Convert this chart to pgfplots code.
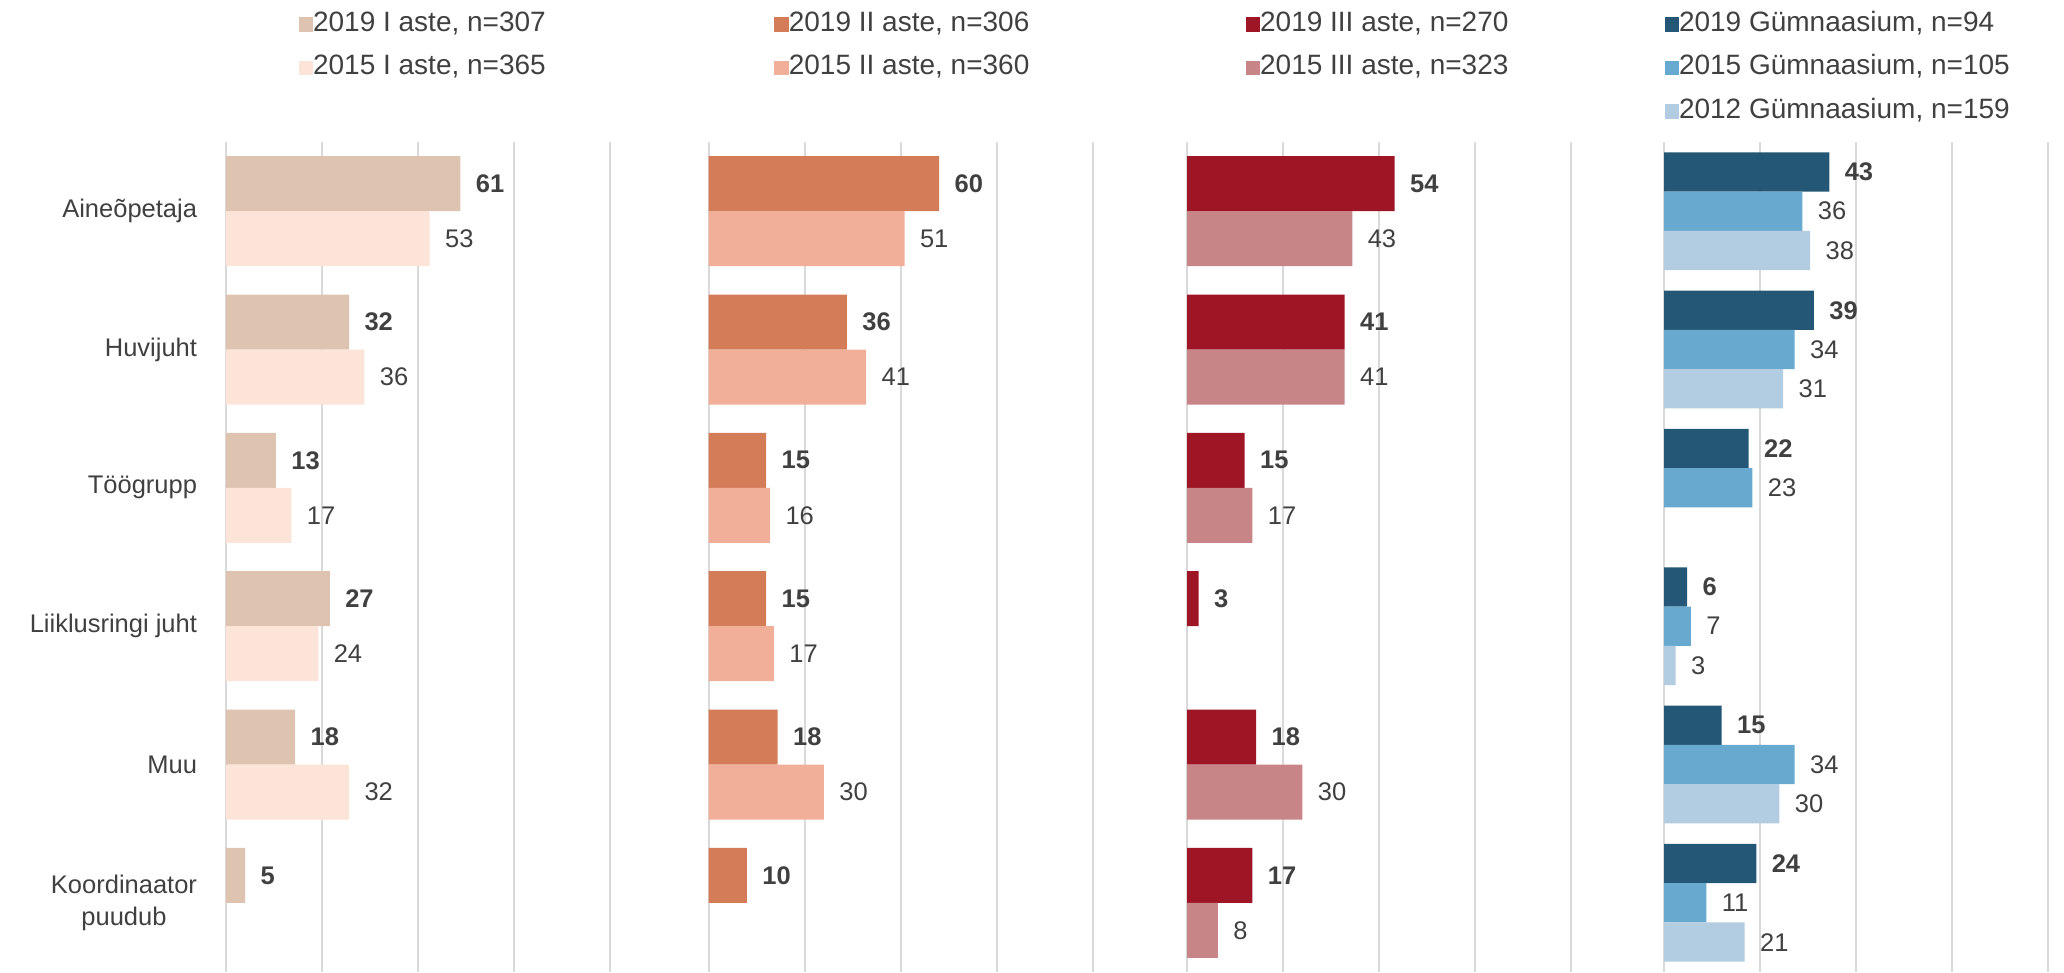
\documentclass[border=0pt]{standalone}
\usepackage{fontspec}
\setmainfont{Liberation Sans}
\usepackage{pgfplots}
\pgfplotsset{compat=1.18}

\definecolor{txt}{HTML}{404040}
\definecolor{gridc}{HTML}{D9D9D9}
\definecolor{ia}{HTML}{DEC3B0}
\definecolor{ib}{HTML}{FCE4D8}
\definecolor{iia}{HTML}{D47B58}
\definecolor{iib}{HTML}{F1AF9A}
\definecolor{iiia}{HTML}{9E1526}
\definecolor{iiib}{HTML}{C88588}
\definecolor{ga}{HTML}{245775}
\definecolor{gb}{HTML}{67A9CF}
\definecolor{gc}{HTML}{B2CDE1}

\pgfplotsset{
  panel/.style={
    scale only axis, width=192.2pt, height=332pt,
    anchor=north west,
    xmin=0, xmax=125, ymin=-0.5, ymax=5.5, y dir=reverse,
    xbar, bar width=22pt, clip=false,
    axis line style={draw=none},
    major tick length=0pt,
    xtick={0,25,50,75,100}, xticklabels={},
    xmajorgrids, grid style={draw=gridc, line width=0.8pt},
    ytick={0,...,5}, yticklabels={},
    nodes near coords,
    nodes near coords align={horizontal},
    every node near coord/.append style={text=txt, inner sep=0pt, xshift=6pt},
    /pgf/number format/assume math mode=true,
    legend style={draw=none, fill=none, anchor=north west, text=txt,
      inner sep=0pt, row sep=6.9pt, font=\fontsize{11.2}{13.4}\selectfont,
      nodes={inner sep=0pt, text height=8pt, text depth=2.5pt}},
    legend cell align=left,
    legend image code/.code={\fill[##1] (0pt,-2.9pt) rectangle (5.8pt,2.9pt);},
  },
}

\begin{document}
\fontsize{10.2}{12.5}\selectfont
\begin{tikzpicture}
\path[use as bounding box] (0,0) rectangle (825.6pt,-388.8pt);

% I aste
\begin{axis}[panel, at={(90.4pt,-56.8pt)},
  yticklabels={Aineõpetaja, Huvijuht, Töögrupp, Liiklusringi juht, Muu, {Koordinaator\\puudub}},
  yticklabel style={align=center, text=txt, xshift=-8pt},
  legend style={at={(0.150,1.158)}}]
\addplot[fill=ia, draw=none, bar shift=11pt, every node near coord/.append style={font=\bfseries}]
  coordinates {(61,0) (32,1) (13,2) (27,3) (18,4) (5,5)};
\addlegendentry{2019 I aste, n=307}
\addplot[fill=ib, draw=none, bar shift=-11pt]
  coordinates {(53,0) (36,1) (17,2) (24,3) (32,4)};
\addlegendentry{2015 I aste, n=365}
\end{axis}

% II aste
\begin{axis}[panel, at={(283.4pt,-56.8pt)},
  legend style={at={(0.136,1.158)}}]
\addplot[fill=iia, draw=none, bar shift=11pt, every node near coord/.append style={font=\bfseries}]
  coordinates {(60,0) (36,1) (15,2) (15,3) (18,4) (10,5)};
\addlegendentry{2019 II aste, n=306}
\addplot[fill=iib, draw=none, bar shift=-11pt]
  coordinates {(51,0) (41,1) (16,2) (17,3) (30,4)};
\addlegendentry{2015 II aste, n=360}
\end{axis}

% III aste
\begin{axis}[panel, at={(474.8pt,-56.8pt)},
  legend style={at={(0.121,1.158)}}]
\addplot[fill=iiia, draw=none, bar shift=11pt, every node near coord/.append style={font=\bfseries}]
  coordinates {(54,0) (41,1) (15,2) (3,3) (18,4) (17,5)};
\addlegendentry{2019 III aste, n=270}
\addplot[fill=iiib, draw=none, bar shift=-11pt]
  coordinates {(43,0) (41,1) (17,2) (30,4) (8,5)};
\addlegendentry{2015 III aste, n=323}
\end{axis}

% Gümnaasium
\begin{axis}[panel, at={(665.6pt,-56.8pt)}, bar width=15.7pt,
  legend style={at={(0,1.158)}}]
\addplot[fill=ga, draw=none, bar shift=15.7pt, every node near coord/.append style={font=\bfseries}]
  coordinates {(43,0) (39,1) (22,2) (6,3) (15,4) (24,5)};
\addlegendentry{2019 Gümnaasium, n=94}
\addplot[fill=gb, draw=none, bar shift=0pt]
  coordinates {(36,0) (34,1) (23,2) (7,3) (34,4) (11,5)};
\addlegendentry{2015 Gümnaasium, n=105}
\addplot[fill=gc, draw=none, bar shift=-15.7pt]
  coordinates {(38,0) (31,1) (3,3) (30,4) (21,5)};
\addlegendentry{2012 Gümnaasium, n=159}
\end{axis}
\end{tikzpicture}
\end{document}
